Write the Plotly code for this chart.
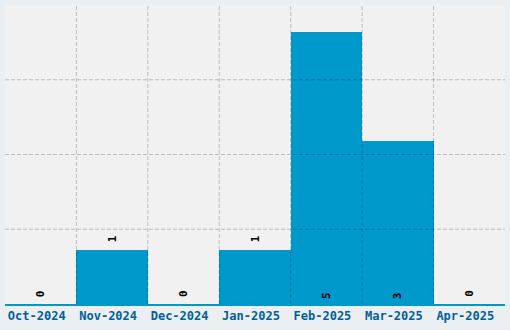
import plotly.graph_objects as go

categories = ["Oct-2024", "Nov-2024", "Dec-2024", "Jan-2025", "Feb-2025", "Mar-2025", "Apr-2025"]
values = [0, 1, 0, 1, 5, 3, 0]
y_max = 5.5
y_grid = [1.375, 2.75, 4.125]

bar_color = "#0099cc"
grid_color = "rgba(0,0,0,0.22)"
mono = "DejaVu Sans Mono"

fig = go.Figure()
fig.add_trace(go.Bar(
    x=categories, y=values,
    marker=dict(color=bar_color, line=dict(width=0)),
    hoverinfo="x+y",
))

annotations = []
for c, v in zip(categories, values):
    inside = v >= 2
    annotations.append(dict(
        x=c, y=0 if inside else v, xref="x", yref="y",
        text=str(v), showarrow=False, textangle=-90,
        xanchor="center", yanchor="bottom",
        yshift=3 if inside else 5,
        font=dict(family=mono, size=11, color="#000000", weight="bold"),
    ))

shapes = []
for i in range(len(categories) - 1):
    shapes.append(dict(type="line", xref="x", yref="paper", x0=i + 0.5, x1=i + 0.5, y0=0, y1=1,
                       line=dict(color=grid_color, width=1, dash="4px,2px"), layer="above"))
for g in y_grid:
    shapes.append(dict(type="line", xref="paper", yref="y", x0=0, x1=1, y0=g, y1=g,
                       line=dict(color=grid_color, width=1, dash="4px,2px"), layer="above"))

fig.update_layout(
    width=510, height=330,
    margin=dict(l=5, r=5, t=5, b=26),
    paper_bgcolor="#eceff1",
    plot_bgcolor="#f1f1f1",
    bargap=0,
    showlegend=False,
    shapes=shapes,
    annotations=annotations,
    xaxis=dict(
        showgrid=False, showline=True, linecolor=bar_color, linewidth=2,
        ticks="", tickfont=dict(family=mono, size=12, color="#00609b", weight="bold"),
        ticklabelshift=-4,
        fixedrange=True,
    ),
    yaxis=dict(
        range=[0, y_max], showgrid=False, showticklabels=False, zeroline=False,
        fixedrange=True,
    ),
)

fig.write_html("out.html")
